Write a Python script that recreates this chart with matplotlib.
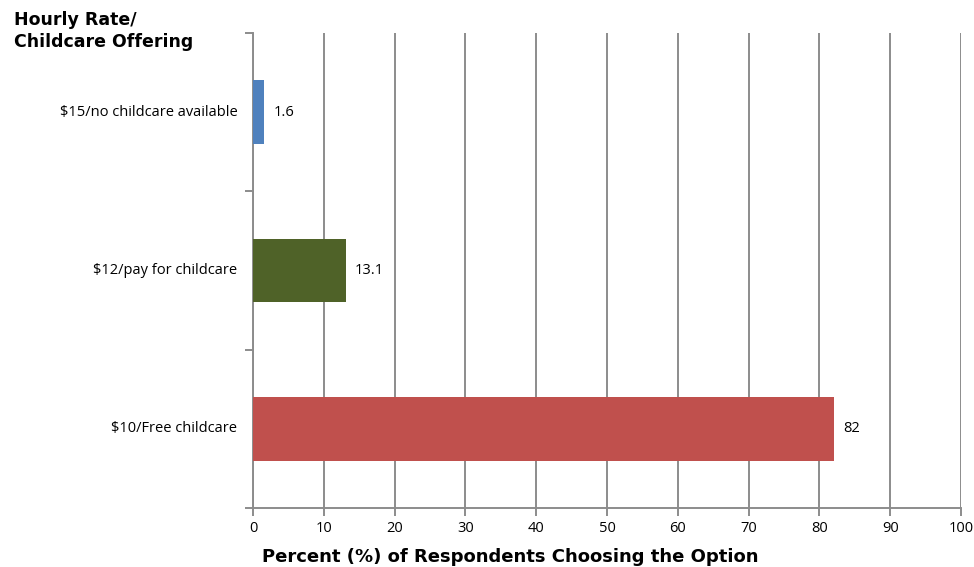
import matplotlib.pyplot as plt

categories = ['$10/Free childcare', '$12/pay for childcare', '$15/no childcare available']
values = [82, 13.1, 1.6]
value_labels = ['82', '13.1', '1.6']
colors = ['#C0504D', '#4F6228', '#4F81BD']
xticks = list(range(0, 101, 10))

plt.rcParams['font.family'] = ['Open Sans', 'DejaVu Sans']

fig = plt.figure(figsize=(9.74, 5.67), dpi=100)
ax = fig.add_axes([253 / 974, 1 - 508 / 567, 708 / 974, 475 / 567])

ypos = list(range(len(categories)))
ax.barh(ypos, values, height=0.4, color=colors, zorder=3)
for y, v, lab in zip(ypos, values, value_labels):
    ax.text(v + 1.3, y, lab, va='center', ha='left', fontsize=10.5)

ax.set_xlim(0, 100)
ax.set_ylim(-0.5, 2.5)
ax.set_xticks(xticks)
ax.set_xticklabels([str(t) for t in xticks], fontsize=10.5)
ax.xaxis.grid(True, color='#8c8c8c', linewidth=1.4, zorder=0)

# category labels sit between the boundary ticks
ax.set_yticks([-0.5, 0.5, 1.5, 2.5])
ax.set_yticklabels([])
for y, c in zip(ypos, categories):
    ax.text(-2.2, y, c, ha='right', va='center', fontsize=10.5)

for s in ['top', 'right']:
    ax.spines[s].set_visible(False)
for s in ['left', 'bottom']:
    ax.spines[s].set_color('#8c8c8c')
    ax.spines[s].set_linewidth(1.4)
ax.tick_params(axis='both', color='#8c8c8c', width=1.4, length=6, direction='out')

fig.text(14 / 974, 1 - 31 / 567, 'Hourly Rate/\nChildcare Offering', fontsize=12.5,
         fontweight='bold', family='DejaVu Sans', va='center', ha='left',
         linespacing=1.25)
fig.text(262 / 974, 1 - 557 / 567, 'Percent (%) of Respondents Choosing the Option',
         fontsize=13, fontweight='bold', family='DejaVu Sans', va='center', ha='left')

fig.savefig('out.png', dpi=100, facecolor='white')
